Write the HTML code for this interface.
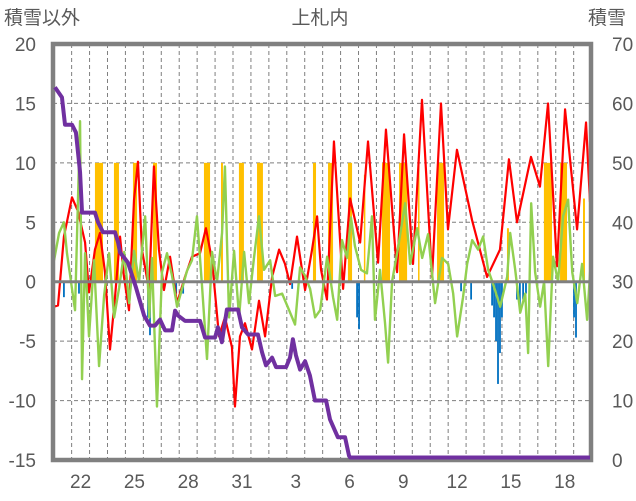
<!DOCTYPE html>
<html><head><meta charset="utf-8"><style>
html,body{margin:0;padding:0;background:#fff;width:636px;height:501px;overflow:hidden}
svg{display:block;font-family:"Liberation Sans","Noto Sans CJK JP",sans-serif}
</style></head><body>
<svg id="chart" width="636" height="501" viewBox="0 0 636 501"></svg>
<script>
// ---- data ----
const dayLabels = ["22","25","28","31","3","6","9","12","15","18"];
const dayLabelIdx = [1,4,7,10,13,16,19,22,25,28];
const leftTicks = [-15,-10,-5,0,5,10,15,20];
const rightTicks = [0,10,20,30,40,50,60,70];
const redT = [0.02,0.24,0.57,1.02,1.36,1.75,1.97,2.30,2.58,2.86,3.14,3.42,3.70,3.92,4.20,4.48,4.70,4.92,5.32,5.59,5.87,6.15,6.49,6.88,7.32,7.71,8.16,8.49,8.83,9.22,9.55,9.94,10.11,10.39,10.67,11.06,11.45,11.79,12.18,12.57,12.90,13.18,13.57,14.02,14.41,14.69,14.91,15.24,15.63,16.14,16.53,17.09,17.53,18.09,18.53,19.15,19.54,20.04,20.54,21.10,21.60,21.99,22.49,23.33,24.17,24.89,25.39,25.84,26.62,27.12,27.57,28.07,28.52,29.19,29.69,29.91];
const redV = [-2.1,-2.0,3.8,7.1,5.9,3.3,-0.9,2.7,4.1,0.8,-5.7,-1.3,3.8,0.4,-2.4,6.9,10.1,2.7,-0.7,9.7,2.7,-0.7,2.1,-1.8,0.4,2.1,2.4,4.5,1.8,-4.6,-3.0,-5.5,-10.5,-4.6,-3.5,-5.7,-1.6,-4.6,0.4,2.7,1.5,-0.2,3.8,-0.7,2.7,5.5,1.0,-1.5,11.8,-0.6,7.0,3.3,11.8,1.6,12.8,0.8,12.4,1.5,15.3,0.4,15.0,4.4,11.1,5.2,0.4,2.7,10.3,5.0,10.5,8.0,15.0,1.3,14.5,4.4,13.4,6.7];
const greenT = [0.02,0.30,0.57,0.74,1.19,1.47,1.58,1.75,1.97,2.25,2.53,2.81,3.09,3.37,3.65,3.93,4.21,4.48,4.76,5.10,5.33,5.48,5.76,6.04,6.32,6.60,6.88,7.16,7.43,7.71,7.99,8.27,8.55,8.83,9.11,9.39,9.55,9.78,10.06,10.34,10.62,10.89,11.17,11.45,11.73,12.07,12.35,12.74,13.13,13.46,13.74,14.02,14.30,14.58,14.86,15.25,15.58,15.81,16.08,16.36,16.58,16.80,17.14,17.47,17.75,17.92,18.20,18.48,18.65,18.87,19.21,19.60,19.88,20.27,20.55,20.88,21.27,21.66,22.00,22.28,22.50,22.83,23.06,23.34,23.67,23.95,24.23,24.51,24.90,25.29,25.46,25.74,26.02,26.30,26.46,26.63,26.85,27.13,27.35,27.58,27.85,28.13,28.41,28.69,28.92,29.20,29.47,29.75,29.97];
const greenV = [1.8,4.1,5,2.4,-2.4,13.5,-8.2,2.4,-4.6,1.8,-7.1,-1.2,2.4,-3,-0.5,2.5,-1.8,2.6,0,5.5,-3,2,-10.5,0.8,2.4,0.5,-2.1,-0.6,0.9,1.8,5.5,-0.3,-6.5,2.5,0,4.1,9.7,-3,2.6,-3,2.5,-1.8,2,5.5,1,1.8,-1.2,-1,-2.4,-3.6,1.2,0.5,-0.6,-3,-2.4,2.1,-1.3,-3.2,3.5,2,5.4,3,1,0.7,5.5,-3.2,1,-3.5,-6.8,0,2.9,6.6,1.5,4.5,2,4,-1.8,2,1.5,-1,-4.6,-1.3,1.5,3.5,2.7,3.8,1,-0.2,-2.1,0.4,4.1,1,-2.6,-1,-6,6.6,0.8,-2.1,0,-7.1,2.1,0,5.5,6.9,0.8,-1.8,1.5,-3.2,2.1];
const orangeStart = [1.47,2.30,3.36,4.42,5.54,8.38,9.33,10.33,11.34,14.46,15.30,16.41,17.30,18.31,19.26,20.32,21.38,25.28,27.34,28.24,29.52];
const orangeEnd   = [1.58,2.75,3.64,4.65,5.76,8.72,9.44,10.61,11.67,14.63,15.58,16.64,17.36,18.76,19.71,20.38,21.77,25.39,27.79,28.63,29.63];
const orangeV     = [2,10,10,10,10,10,10,10,10,10,10,10,9,10,10,10,10,4.5,10,10,7];
const blueT = [0.57,1.41,5.26,5.37,6.83,7.22,13.3,16.92,17.03,22.72,23.28,24.45,24.56,24.67,24.78,24.89,25.0,25.84,26.0,26.18,26.34,29.02,29.13];
const blueV = [-1.3,-1,-3,-4.5,-1,-1,-0.6,-3,-4,-0.8,-1.5,-2,-3,-5,-8.6,-6,-3,-1.5,-2.5,-1.5,-1,-3,-4.7];
const snowT = [0.07,0.46,0.63,1.02,1.24,1.47,1.58,2.30,2.47,2.75,3.42,3.59,3.70,4.14,4.59,5.04,5.37,5.65,5.93,6.21,6.60,6.77,6.93,7.32,8.16,8.44,9.0,9.16,9.38,9.66,10.28,10.50,10.84,11.39,11.62,11.84,12.18,12.40,12.96,13.18,13.34,13.51,13.74,14.02,14.29,14.57,15.19,15.41,15.85,16.25,16.47,16.53,29.91];
const snowV = [62.3,60.6,56,56,54.7,48,41.2,41.2,39.6,37.9,37.9,36.2,34.5,32.8,28.6,23.9,22.2,22.2,23.2,21.4,21.4,24.7,23.9,23,23,20.2,20.2,21.9,19.4,24.9,24.9,21.9,20.7,20.7,17.7,15.5,16.8,15.2,15.2,16.8,19.9,17.2,14.8,16.2,13.8,9.6,9.6,6.4,3.4,3.4,0.3,0,0];

// ---- axes ----
const L=53, R=591, T=44, B=460, X0=53.7, DAY=17.93;
const xS = t => X0 + t*DAY;
const yL = v => B - (v+15)*(B-T)/35;
const yR = v => B - v*(B-T)/70;
const NS="http://www.w3.org/2000/svg";
const svg=document.getElementById('chart');
function mk(tag, attrs, parent){const e=document.createElementNS(NS,tag);for(const k in attrs)e.setAttribute(k,attrs[k]);(parent||svg).appendChild(e);return e;}

// grid
const grid=mk('g',{});


for(let d=1; d<30; d++){ mk('line',{x1:xS(d),x2:xS(d),y1:T,y2:B,stroke:'#7f7f7f','stroke-width':1,'stroke-dasharray':'4,3'},grid); }
leftTicks.forEach(v=>{ if(v!==-15&&v!==20&&v!==0) mk('line',{x1:L,x2:R,y1:yL(v),y2:yL(v),stroke:'#7f7f7f','stroke-width':1,'stroke-dasharray':'4,3'},grid); });

// orange bars
const og=mk('g',{});


orangeStart.forEach((s,i)=>{
  const r=mk('rect',{x:xS(s),y:yL(orangeV[i]),width:Math.max(1.5,xS(orangeEnd[i])-xS(s)),height:yL(0)-yL(orangeV[i]),fill:'#FFC000'},og);
  
  
});
// blue bars
const bg=mk('g',{});


blueT.forEach((t,i)=>{
  const r=mk('rect',{x:xS(t)-0.9,y:yL(0),width:1.8,height:yL(blueV[i])-yL(0),fill:'#0070C0'},bg);
  
  
});

function line(ts,vs,yf,color,w,name){
  const p=mk('polyline',{points:ts.map((t,i)=>xS(t)+','+yf(vs[i])).join(' '),fill:'none',stroke:color,'stroke-width':w,'stroke-linejoin':'round'});
  
  
}
line(redT,redV,yL,'#FF0000',2.2,'red-series-line');
line(greenT,greenV,yL,'#92D050',2.4,'green-series-line');

// zero line
const z=mk('line',{x1:L,x2:R,y1:yL(0),y2:yL(0),stroke:'#808080','stroke-width':3});



// frame
const fr=mk('rect',{x:L,y:T,width:R-L,height:B-T,fill:'none',stroke:'#808080','stroke-width':4.5});



// snow depth drawn on top, offset so zero sits just above the frame
const ySnow = v => yR(v) - 2.5;
line(snowT,snowV,ySnow,'#7030A0',4,'snow-depth-line');

// tick labels
const txt=(s,x,y,anchor,name)=>{const e=mk('text',{x:x,y:y,'text-anchor':anchor,'font-size':19,fill:'#595959'});e.textContent=s;return e;};
leftTicks.forEach(v=>txt(String(v),36,yL(v)+7,'end','left-tick-label'));
rightTicks.forEach(v=>txt(String(v),612,yR(v)+7,'start','right-tick-label'));
dayLabels.forEach((s,i)=>txt(s,xS(dayLabelIdx[i]+0.5),488,'middle','x-tick-label'));
txt('積雪以外',4,24,'start','left-axis-title');
txt('上札内',320,24,'middle','chart-title');
txt('積雪',588,24,'start','right-axis-title');
</script>
</body></html>
